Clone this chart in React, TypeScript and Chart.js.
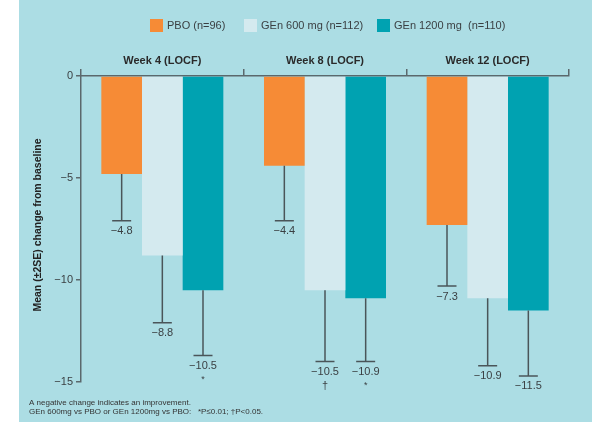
import React, { useEffect, useRef } from "react";
import { Chart, registerables } from "chart.js";

Chart.register(...registerables);

const categories = ["Week 4 (LOCF)", "Week 8 (LOCF)", "Week 12 (LOCF)"];
const seriesLabels = ["PBO (n=96)", "GEn 600 mg (n=112)", "GEn 1200 mg  (n=110)"];
const pbo = [-4.8, -4.4, -7.3];
const gen600 = [-8.8, -10.5, -10.9];
const gen1200 = [-10.5, -10.9, -11.5];
const pboLow = [-7.1, -7.1, -10.3];
const gen600Low = [-12.1, -14.0, -14.2];
const gen1200Low = [-13.7, -14.0, -14.7];
const pboSig = ["", "", ""];
const gen600Sig = ["", "\u2020", ""];
const gen1200Sig = ["*", "*", ""];
const yTicks = [0, -5, -10, -15];
const yTitle = "Mean (\u00b12SE) change from baseline";
const footnotes = [
  "A negative change indicates an improvement.",
  "GEn 600mg vs PBO or GEn 1200mg vs PBO:   *P\u22640.01; \u2020P<0.05.",
];

const colors = ["#f68b36", "#d4eaef", "#00a2b1"];
const BG = "#acdde4";
const AXIS = "#5b686c";
const TEXT = "#3a3f42";
const FONT = "'Liberation Sans', Arial, Helvetica, sans-serif";

const fmt = (v: number) => (v < 0 ? "\u2212" : "") + Math.abs(v).toFixed(1);

export default function App() {
  const ref = useRef<HTMLCanvasElement | null>(null);

  useEffect(() => {
    if (!ref.current) return;
    const lows = [pboLow, gen600Low, gen1200Low];
    const sigs = [pboSig, gen600Sig, gen1200Sig];

    const bgPlugin = {
      id: "bgPanel",
      beforeDraw(chart: any) {
        const ctx = chart.ctx;
        ctx.save();
        ctx.fillStyle = "#ffffff";
        ctx.fillRect(0, 0, chart.width, chart.height);
        ctx.fillStyle = BG;
        ctx.fillRect(19, 0, chart.width - 19, 422);
        ctx.restore();
      },
    };

    const extrasPlugin = {
      id: "extras",
      afterDatasetsDraw(chart: any) {
        const ctx = chart.ctx;
        const y = chart.scales.y;
        ctx.save();
        // error bars and value labels
        chart.data.datasets.forEach((ds: any, di: number) => {
          const meta = chart.getDatasetMeta(di);
          meta.data.forEach((bar: any, i: number) => {
            const x = bar.x;
            const yTop = y.getPixelForValue(ds.data[i]);
            const yLow = y.getPixelForValue(lows[di][i]);
            ctx.strokeStyle = "#4a5559";
            ctx.lineWidth = 1.5;
            ctx.beginPath();
            ctx.moveTo(x, yTop);
            ctx.lineTo(x, yLow);
            ctx.moveTo(x - 9.5, yLow);
            ctx.lineTo(x + 9.5, yLow);
            ctx.stroke();
            ctx.fillStyle = TEXT;
            ctx.font = `11px ${FONT}`;
            ctx.textAlign = "center";
            ctx.textBaseline = "middle";
            ctx.fillText(fmt(ds.data[i]), x, yLow + 10.5);
            const s = sigs[di][i];
            if (s) {
              ctx.font = `${s === "*" ? 9 : 11}px ${FONT}`;
              ctx.fillText(s, x, yLow + (s === "*" ? 24 : 24));
            }
          });
        });
        ctx.restore();
      },
      afterDraw(chart: any) {
        const ctx = chart.ctx;
        ctx.save();
        // legend
        const boxX = [150, 244, 377];
        chart.data.datasets.forEach((ds: any, di: number) => {
          ctx.fillStyle = ds.backgroundColor;
          ctx.fillRect(boxX[di], 19, 13, 13);
          ctx.fillStyle = TEXT;
          ctx.font = `11px ${FONT}`;
          ctx.textAlign = "left";
          ctx.textBaseline = "middle";
          ctx.fillText(ds.label, boxX[di] + 17, 26);
        });
        // y title
        ctx.save();
        ctx.translate(38, 225);
        ctx.rotate(-Math.PI / 2);
        ctx.font = `bold 10.5px ${FONT}`;
        ctx.fillStyle = "#222";
        ctx.textAlign = "center";
        ctx.textBaseline = "middle";
        ctx.fillText(yTitle, 0, 0);
        ctx.restore();
        // footnotes
        ctx.font = `8px ${FONT}`;
        ctx.fillStyle = "#333";
        ctx.textAlign = "left";
        ctx.textBaseline = "middle";
        footnotes.forEach((t, i) => ctx.fillText(t, 29, 403 + i * 9));
        ctx.restore();
      },
    };

    const chart = new Chart(ref.current, {
      type: "bar",
      data: {
        labels: categories,
        datasets: [pbo, gen600, gen1200].map((d, i) => ({
          label: seriesLabels[i],
          data: d,
          backgroundColor: colors[i],
          borderWidth: 0,
          barPercentage: 1,
          categoryPercentage: 0.75,
        })),
      },
      options: {
        responsive: false,
        animation: false,
        layout: { padding: { left: 0, top: 0, right: 23, bottom: 41 } },
        plugins: { legend: { display: false }, tooltip: { enabled: false } },
        scales: {
          x: {
            position: "top",
            grid: {
              drawOnChartArea: false,
              offset: true,
              tickLength: 7,
              color: AXIS,
              lineWidth: 1.5,
            },
            border: { color: AXIS, width: 1.5 },
            ticks: {
              font: { family: FONT, size: 11, weight: "bold" },
              color: "#2a2a2a",
              padding: 1,
              maxRotation: 0,
            },
            afterFit: (s: any) => {
              s.height = 76;
            },
          },
          y: {
            min: -15,
            max: 0,
            reverse: false,
            afterBuildTicks: (s: any) => {
              s.ticks = yTicks.map((v) => ({ value: v }));
            },
            grid: {
              drawOnChartArea: false,
              tickLength: 5,
              color: AXIS,
              lineWidth: 1.5,
            },
            border: { color: AXIS, width: 1.5 },
            ticks: {
              font: { family: FONT, size: 11 },
              color: TEXT,
              padding: 3,
              callback: (v: any) => (Number(v) === 0 ? "0" : "\u2212" + Math.abs(Number(v))),
            },
            afterFit: (s: any) => {
              s.width = 81;
            },
          },
        },
      },
      plugins: [bgPlugin, extrasPlugin],
    } as any);
    return () => chart.destroy();
  }, []);

  return (
    <div style={{ position: "absolute", left: 0, top: 0, width: 592, height: 423 }}>
      <canvas ref={ref} width={592} height={423} />
    </div>
  );
}
